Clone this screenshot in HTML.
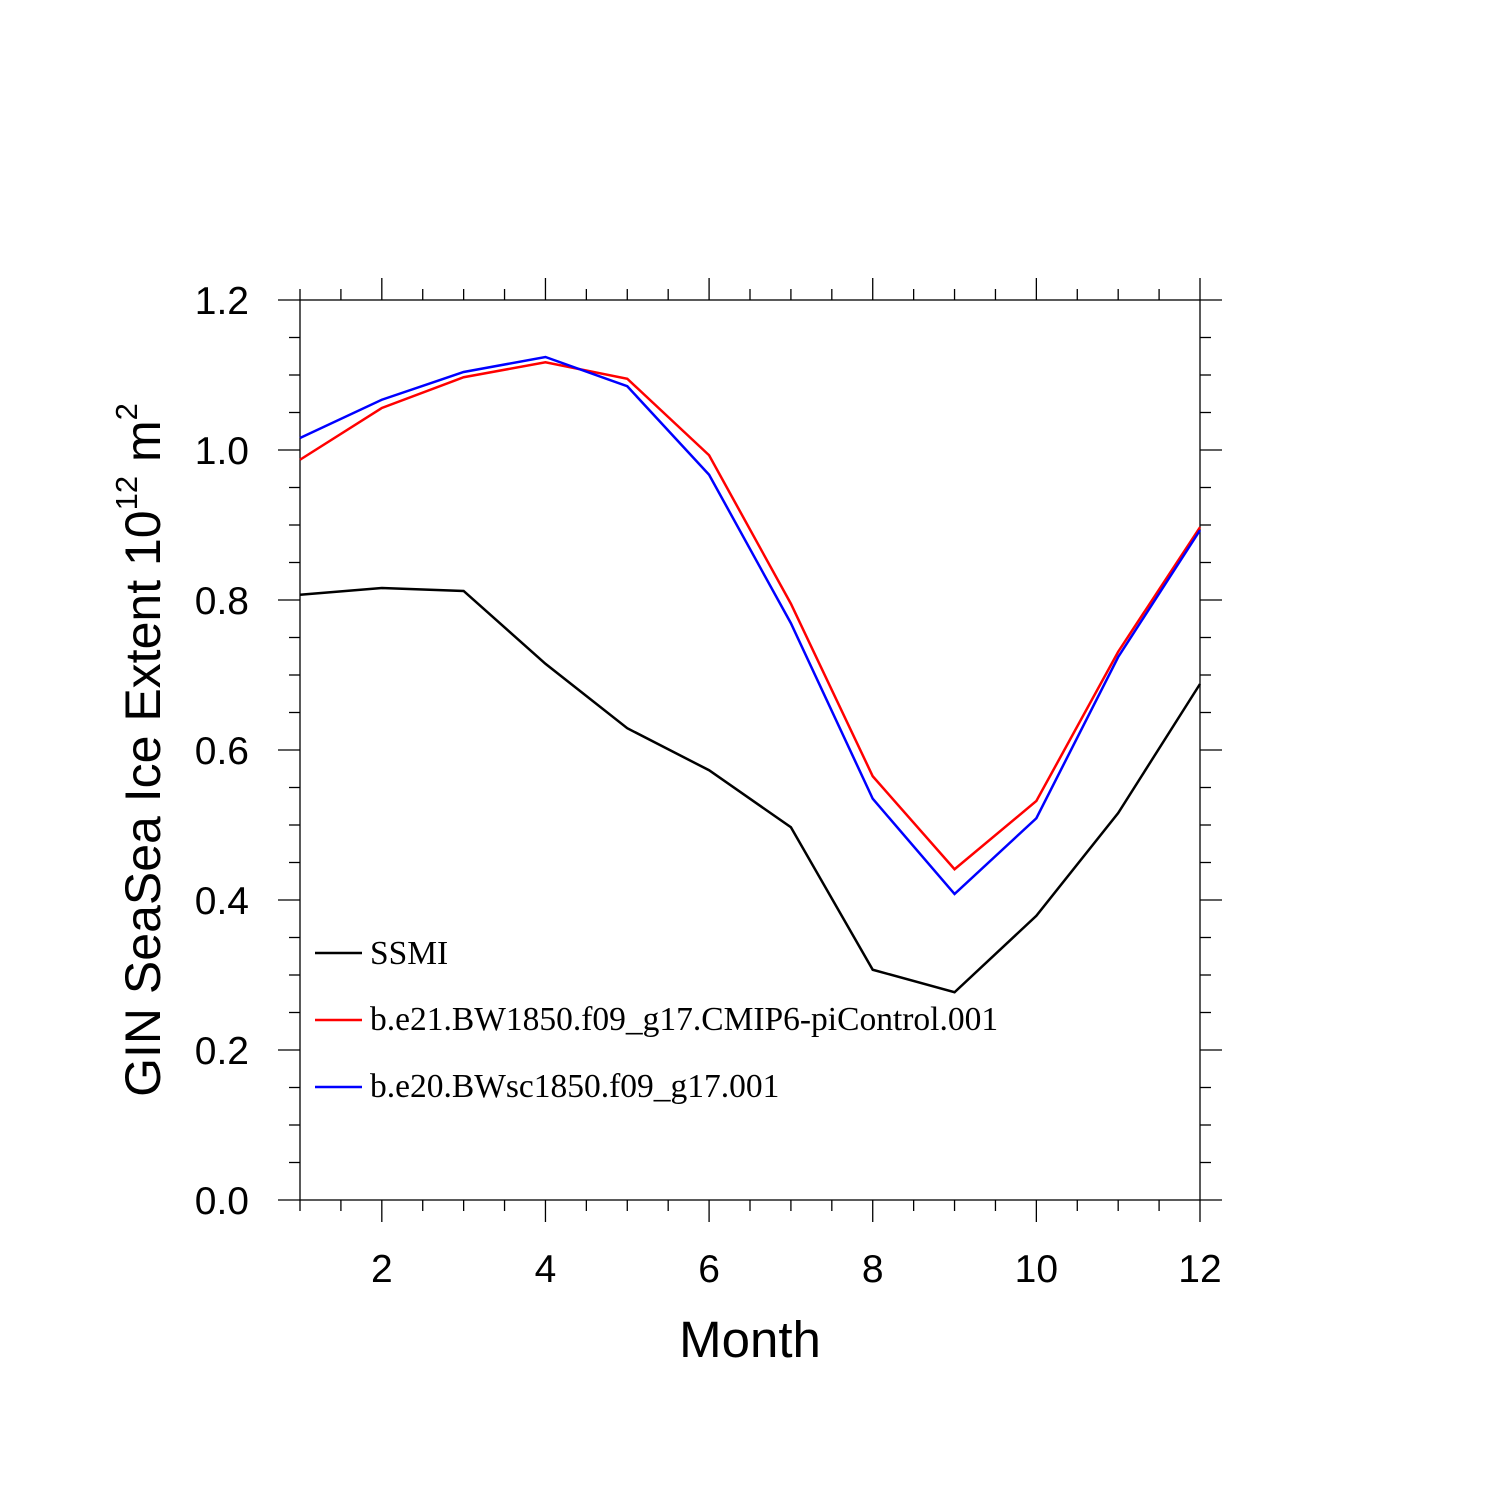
<!DOCTYPE html>
<html><head><meta charset="utf-8"><style>body{margin:0;background:#fff}svg{display:block}</style></head>
<body>
<svg id="chart" width="1500" height="1500" xmlns="http://www.w3.org/2000/svg" font-family="Liberation Sans, sans-serif">
<g id="ticks" stroke="#000" stroke-width="1.3"></g>
<rect x="300" y="300" width="900" height="900" fill="none" stroke="#000" stroke-width="1.3"/>
<g id="lines"></g>
<g id="labels" font-size="39" fill="#000"></g>
<text x="750" y="1357" font-size="51" text-anchor="middle">Month</text>
<text transform="translate(160,750) rotate(-90)" font-size="50" text-anchor="middle">GIN SeaSea Ice Extent 10<tspan font-size="31" dy="-23">12</tspan><tspan dy="23"> m</tspan><tspan font-size="31" dy="-23">2</tspan></text>
<g font-family="Liberation Serif, serif" font-size="33.5">
<line x1="315" y1="953" x2="362" y2="953" stroke="#000" stroke-width="2.5"/>
<text x="370" y="964">SSMI</text>
<line x1="315" y1="1020" x2="362" y2="1020" stroke="#f00" stroke-width="2.5"/>
<text x="370" y="1030">b.e21.BW1850.f09_g17.CMIP6-piControl.001</text>
<line x1="315" y1="1087" x2="362" y2="1087" stroke="#00f" stroke-width="2.5"/>
<text x="370" y="1097">b.e20.BWsc1850.f09_g17.001</text>
</g>
</svg>
<script>
const months=[1,2,3,4,5,6,7,8,9,10,11,12];
const ssmi=[0.807,0.816,0.812,0.715,0.629,0.573,0.497,0.307,0.277,0.379,0.516,0.688];
const piControl=[0.987,1.056,1.097,1.117,1.095,0.993,0.795,0.565,0.441,0.532,0.731,0.897];
const bwsc=[1.016,1.067,1.104,1.124,1.085,0.967,0.769,0.535,0.408,0.509,0.724,0.893];
const xTicks=[2,4,6,8,10,12];
const yTicks=["0.0","0.2","0.4","0.6","0.8","1.0","1.2"];
const NS='http://www.w3.org/2000/svg';
const X=m=>300+(m-1)*900/11, Y=v=>1200-v*750;
function mk(t,a,p){const e=document.createElementNS(NS,t);for(const k in a)e.setAttribute(k,a[k]);p.appendChild(e);return e;}
const tg=document.getElementById('ticks'),lg=document.getElementById('labels'),ln=document.getElementById('lines');
for(let m=1;m<=12.001;m+=0.5){const maj=xTicks.includes(m);const L=maj?22:11;
 let t=mk('line',{x1:X(m),x2:X(m),y1:300,y2:300-L},tg);
 t=mk('line',{x1:X(m),x2:X(m),y1:1200,y2:1200+L},tg);}
for(let i=0;i<=24;i++){const v=i*0.05;const maj=i%4===0;const L=maj?22:11;
 let t=mk('line',{x1:300,x2:300-L,y1:Y(v),y2:Y(v)},tg);
 t=mk('line',{x1:1200,x2:1200+L,y1:Y(v),y2:Y(v)},tg);}
xTicks.forEach(m=>{const t=mk('text',{x:X(m),y:1282,'text-anchor':'middle'},lg);t.textContent=m;
 });
yTicks.forEach(s=>{const t=mk('text',{x:249,y:Y(+s)+14,'text-anchor':'end'},lg);t.textContent=s;
 });
[[ssmi,'#000','line-ssmi'],[piControl,'#f00','line-picontrol'],[bwsc,'#00f','line-bwsc']].forEach(([d,c,n])=>{
 const p=mk('polyline',{points:d.map((v,i)=>X(months[i])+','+Y(v)).join(' '),fill:'none',stroke:c,'stroke-width':2.5},ln);
 
 });
</script>
</body></html>
